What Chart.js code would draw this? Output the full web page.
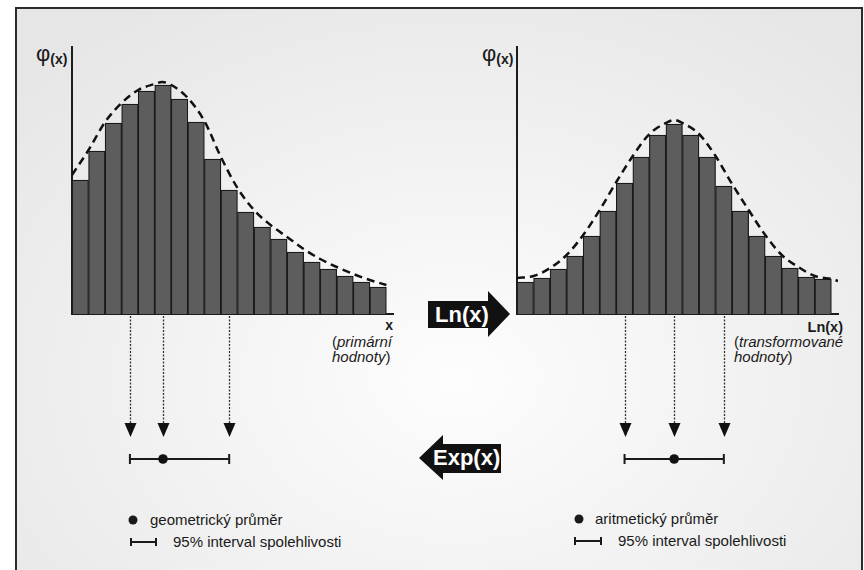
<!DOCTYPE html>
<html lang="cs">
<head>
<meta charset="utf-8">
<title>Logaritmická transformace</title>
<script src="https://cdn.jsdelivr.net/npm/chart.js@4.4.1/dist/chart.umd.min.js"></script>
<style>
  html, body { margin: 0; padding: 0; background: #fff; }
  body { width: 864px; height: 570px; position: relative; overflow: hidden; }
  #frame {
    position: absolute; left: 15px; top: 7px; width: 848px; height: 600px;
    box-sizing: border-box; border: 2px solid #2b2b2b;
    background: radial-gradient(ellipse 70% 75% at 52% 62%, #fdfdfd 0%, #f4f4f4 40%, #e6e6e6 100%);
  }
  svg, canvas { position: absolute; top: 0; }
</style>
</head>
<body>
<div id="frame"></div>

<svg width="864" height="570" font-family="Liberation Sans, Arial, sans-serif">
  <g fill="#1a1a1a">
    <!-- osy -->
    <text x="36" y="61" font-size="22">φ<tspan font-size="14" font-weight="bold" dy="3">(x)</tspan></text>
    <text x="482" y="61" font-size="22">φ<tspan font-size="14" font-weight="bold" dy="3">(x)</tspan></text>

    <text x="393" y="330" font-size="14" font-weight="bold" text-anchor="end">x</text>
    <text x="332" y="347" font-size="15">(<tspan font-style="italic">primární</tspan></text>
    <text x="332" y="362" font-size="15"><tspan font-style="italic">hodnoty</tspan>)</text>

    <text x="843" y="332" font-size="14.5" font-weight="bold" text-anchor="end">Ln(x)</text>
    <text x="734" y="347" font-size="15">(<tspan font-style="italic">transformované</tspan></text>
    <text x="734" y="362" font-size="15"><tspan font-style="italic">hodnoty</tspan>)</text>

    <!-- legenda -->
    <circle cx="133" cy="520" r="4.5"/>
    <text x="150" y="525" font-size="15">geometrický průměr</text>
    <text x="173" y="547" font-size="15">95% interval spolehlivosti</text>

    <circle cx="579" cy="519" r="4.5"/>
    <text x="595" y="524" font-size="15">aritmetický průměr</text>
    <text x="618" y="546" font-size="15">95% interval spolehlivosti</text>
  </g>
  <g stroke="#1a1a1a" stroke-width="2" fill="none">
    <path d="M130 542 H157 M131 538 V546 M156 538 V546"/>
    <path d="M574 541 H602 M575 537 V545 M601 537 V545"/>
  </g>

  <!-- šipky transformace -->
  <polygon points="428,301 488,301 488,291 510,314 488,337 488,328 428,328" fill="#111"/>
  <text x="435" y="322" font-size="22" font-weight="bold" fill="#fff">Ln(x)</text>
  <polygon points="419,458 443,435 443,444 501,444 501,473 443,473 443,480" fill="#111"/>
  <text x="433" y="465" font-size="22" font-weight="bold" fill="#fff">Exp(x)</text>
</svg>

<canvas id="leftChart" width="432" height="570" style="left:0"></canvas>
<canvas id="rightChart" width="432" height="570" style="left:432px"></canvas>

<script>
// ===== Data =====
const classes = [1, 2, 3, 4, 5, 6, 7, 8, 9, 10, 11, 12, 13, 14, 15, 16, 17, 18, 19];

// primární hodnoty (zešikmené rozdělení)
const leftBars = [134, 163, 191, 210, 223, 229, 215, 192, 155, 124, 102, 87, 75, 62, 52, 45, 38, 32, 27];
const leftCurveX = [0.5, 1.5, 2.5, 3.5, 4.5, 5.5, 5.95, 6.5, 7.5, 8.5, 9.5, 10.5, 11.5, 12.5, 13.5, 14.5, 15.5, 16.5, 17.5, 18.5, 19.5];
const leftCurveY = [139, 164, 192, 211, 224, 230, 232, 229, 216, 193, 157, 126, 104, 89, 77, 65, 55, 47, 40, 34, 29];
const leftInterval = [4, 6, 10];   // dolní mez, průměr, horní mez

// transformované hodnoty (normální rozdělení)
const rightBars = [32, 36, 45, 58, 78, 103, 131, 157, 179, 190, 179, 157, 128, 103, 78, 58, 46, 37, 35];
const rightCurveX = [0.5, 1.5, 2.5, 3.5, 4.5, 5.5, 6.5, 7.5, 8.5, 9.5, 10, 10.5, 11.5, 12.5, 13.5, 14.5, 15.5, 16.5, 17.5, 18.5, 19.5, 19.9];
const rightCurveY = [36, 38, 46, 59, 79, 104, 132, 158, 180, 191, 194, 191, 180, 158, 130, 104, 79, 59, 47, 38, 35, 33];
const rightInterval = [7, 10, 13];

// ===== Šipky a interval pod osou x =====
const intervalMarks = {
    id: "intervalMarks",
    afterDraw(chart, args, opts) {
        const { ctx, chartArea, scales: { x } } = chart;
        const [lo, mean, hi] = opts.values;
        const start = chartArea.bottom + 2;
        const tip = chartArea.bottom + 123;
        const lineY = chartArea.bottom + 145;

        ctx.save();
        [lo, mean, hi].forEach(v => {
            const px = Math.round(x.getPixelForValue(v)) + 0.5;
            ctx.strokeStyle = "#333";
            ctx.lineWidth = 1.3;
            ctx.setLineDash([2, 1.5]);
            ctx.beginPath();
            ctx.moveTo(px, start);
            ctx.lineTo(px, tip - 13);
            ctx.stroke();

            ctx.setLineDash([]);
            ctx.fillStyle = "#111";
            ctx.beginPath();
            ctx.moveTo(px - 6, tip - 14);
            ctx.lineTo(px + 6, tip - 14);
            ctx.lineTo(px, tip);
            ctx.closePath();
            ctx.fill();
        });

        const xl = x.getPixelForValue(lo);
        const xm = x.getPixelForValue(mean);
        const xh = x.getPixelForValue(hi);
        ctx.strokeStyle = "#1a1a1a";
        ctx.lineWidth = 2;
        ctx.beginPath();
        ctx.moveTo(xl, lineY); ctx.lineTo(xh, lineY);
        ctx.moveTo(xl, lineY - 5); ctx.lineTo(xl, lineY + 5);
        ctx.moveTo(xh, lineY - 5); ctx.lineTo(xh, lineY + 5);
        ctx.stroke();
        ctx.fillStyle = "#111";
        ctx.beginPath();
        ctx.arc(xm, lineY, 4.8, 0, Math.PI * 2);
        ctx.fill();
        ctx.restore();
    }
};

// ===== Histogram =====
function drawHistogram(id, bars, curveX, curveY, interval, padding) {
    return new Chart(document.getElementById(id), {
        type: "bar",
        data: {
            datasets: [
                {
                    type: "line",
                    data: curveX.map((x, i) => ({ x, y: curveY[i] })),
                    borderColor: "#111",
                    borderWidth: 2.5,
                    borderDash: [8, 5],
                    pointRadius: 0,
                    cubicInterpolationMode: "monotone",
                    fill: false,
                    order: 0
                },
                {
                    type: "bar",
                    data: classes.map((x, i) => ({ x, y: bars[i] })),
                    backgroundColor: "#5d5d5d",
                    borderColor: "#1a1a1a",
                    borderWidth: 1.25,
                    barPercentage: 1,
                    categoryPercentage: 1,
                    order: 1
                }
            ]
        },
        options: {
            responsive: false,
            animation: false,
            events: [],
            layout: { padding },
            plugins: {
                legend: { display: false },
                tooltip: { enabled: false },
                intervalMarks: { values: interval }
            },
            scales: {
                x: {
                    type: "linear",
                    min: 0.5,
                    max: 19.9,
                    offset: false,
                    grid: { display: false, drawTicks: false },
                    ticks: { display: false, stepSize: 5 },
                    border: { color: "#1c1c1c", width: 2 }
                },
                y: {
                    min: 0,
                    max: 267,
                    grid: { display: false, drawTicks: false },
                    ticks: { display: false },
                    border: { color: "#1c1c1c", width: 2 }
                }
            }
        },
        plugins: [intervalMarks]
    });
}

drawHistogram("leftChart", leftBars, leftCurveX, leftCurveY, leftInterval,
    { left: 72, top: 47, right: 39, bottom: 256 });
drawHistogram("rightChart", rightBars, rightCurveX, rightCurveY, rightInterval,
    { left: 85, top: 47, right: 26, bottom: 256 });
</script>
</body>
</html>
